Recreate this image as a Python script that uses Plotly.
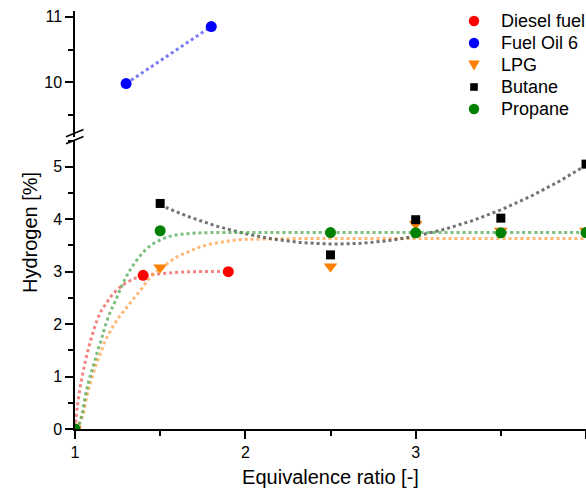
import numpy as np
import plotly.graph_objects as go

# ---------------- data ----------------
diesel_x = [1.0, 1.4, 1.9]
diesel_y = [0.0, 2.93, 3.0]

fo6_x = [1.3, 1.8]
fo6_y = [9.98, 10.85]

lpg_x = [1.0, 1.5, 2.5, 3.0, 3.5, 4.0]
lpg_y = [0.0, 3.08, 3.10, 3.91, 3.78, 3.78]

butane_x = [1.5, 2.5, 3.0, 3.5, 4.0]
butane_y = [4.30, 3.32, 3.99, 4.02, 5.05]

propane_x = [1.0, 1.5, 2.5, 3.0, 3.5, 4.0]
propane_y = [0.0, 3.78, 3.745, 3.74, 3.74, 3.745]

# fitted curves, points
diesel_fit_x = [1.0, 1.014, 1.035, 1.063, 1.098, 1.143, 1.176, 1.225, 1.284, 1.343,
                1.40, 1.46, 1.54, 1.618, 1.716, 1.9]
diesel_fit_y = [0.0, 0.43, 0.88, 1.32, 1.76, 2.18, 2.36, 2.58, 2.75, 2.86,
                2.92, 2.95, 2.97, 2.99, 3.0, 3.0]

propane_fit_x = [1.0, 1.02, 1.039, 1.058, 1.078, 1.098, 1.118, 1.137, 1.157, 1.176,
                 1.206, 1.235, 1.294, 1.333, 1.382, 1.44, 1.51, 1.578, 1.676, 1.8,
                 2.0, 2.5, 3.0, 3.5, 4.0]
propane_fit_y = [0.0, 0.06, 0.25, 0.58, 0.88, 1.10, 1.32, 1.53, 1.73, 1.95,
                 2.22, 2.43, 2.86, 3.08, 3.30, 3.49, 3.62, 3.69, 3.73, 3.745,
                 3.745, 3.745, 3.745, 3.745, 3.745]

lpg_fit_x = [1.0, 1.02, 1.049, 1.065, 1.084, 1.104, 1.127, 1.151, 1.176, 1.206,
             1.235, 1.265, 1.294, 1.343, 1.392, 1.45, 1.52, 1.598, 1.667, 1.725,
             1.775, 1.873, 1.97, 2.07, 2.3, 3.0, 4.0]
lpg_fit_y = [0.0, 0.08, 0.30, 0.56, 0.81, 1.03, 1.26, 1.45, 1.67, 1.86,
             2.02, 2.16, 2.28, 2.48, 2.68, 2.92, 3.10, 3.28, 3.38, 3.46,
             3.51, 3.57, 3.61, 3.62, 3.63, 3.63, 3.63]

series_names = ["Diesel fuel", "Fuel Oil 6", "LPG", "Butane", "Propane"]
series_colors = ["#ff0000", "#0000ff", "#ff8000", "#000000", "#008000"]
series_symbols = ["circle", "circle", "triangle-down", "square", "circle"]

# quadratic fit of butane data
b_coef = np.polyfit(butane_x, butane_y, 2)
b_fit_x = np.linspace(min(butane_x), max(butane_x), 120)
b_fit_y = np.polyval(b_coef, b_fit_x)

FONT = "Arial, Liberation Sans, sans-serif"

fig = go.Figure()

# fit lines
fig.add_trace(go.Scatter(x=diesel_fit_x, y=diesel_fit_y, mode="lines", line_shape="spline",
                         line=dict(color="rgba(240,90,90,0.75)", width=3, dash="dot"),
                         showlegend=False, hoverinfo="skip"))
fig.add_trace(go.Scatter(x=fo6_x, y=fo6_y, mode="lines", yaxis="y2",
                         line=dict(color="rgba(100,100,245,0.85)", width=3, dash="dot"),
                         showlegend=False, hoverinfo="skip"))
fig.add_trace(go.Scatter(x=lpg_fit_x, y=lpg_fit_y, mode="lines", line_shape="spline",
                         line=dict(color="rgba(255,160,70,0.75)", width=3, dash="dot"),
                         showlegend=False, hoverinfo="skip"))
fig.add_trace(go.Scatter(x=b_fit_x, y=b_fit_y, mode="lines",
                         line=dict(color="rgba(90,90,90,0.85)", width=3, dash="dot"),
                         showlegend=False, hoverinfo="skip"))
fig.add_trace(go.Scatter(x=propane_fit_x, y=propane_fit_y, mode="lines", line_shape="spline",
                         line=dict(color="rgba(80,170,80,0.75)", width=3, dash="dot"),
                         showlegend=False, hoverinfo="skip"))

# markers
marker_sizes = [11, 11, 12, 9, 11]
for nm, xs, ys, col, sym, sz, ya in zip(
        series_names,
        [diesel_x, fo6_x, lpg_x, butane_x, propane_x],
        [diesel_y, fo6_y, lpg_y, butane_y, propane_y],
        series_colors, series_symbols, marker_sizes,
        ["y", "y2", "y", "y", "y"]):
    fig.add_trace(go.Scatter(x=xs, y=ys, mode="markers", name=nm, yaxis=ya,
                             showlegend=False,
                             marker=dict(color=col, size=sz, symbol=sym)))

W, H = 586, 495
ml, mr, mt, mb = 75, 0, 11, 66
pw, ph = W - ml - mr, H - mt - mb


def px_x(p):
    return (p - ml) / pw


def px_y(p):
    return (H - mb - p) / ph


axis_common = dict(showgrid=False, zeroline=False, showline=True, linecolor="black",
                   linewidth=1.5, ticks="outside", ticklen=8, tickwidth=1.5,
                   tickcolor="black", tickfont=dict(family=FONT, size=16, color="black"))
minor_common = dict(dtick=0.5, ticklen=5, ticks="outside", tickcolor="black", tickwidth=1.5)

fig.update_layout(
    width=W, height=H,
    margin=dict(l=ml, r=mr, t=mt, b=mb),
    paper_bgcolor="white", plot_bgcolor="white",
    font=dict(family=FONT, color="black"),
    xaxis=dict(range=[1, 4], dtick=1, tick0=1, minor=minor_common,
               title=dict(text="Equivalence ratio [-]", font=dict(family=FONT, size=20), standoff=10),
               **axis_common),
    yaxis=dict(range=[0, 5.51], domain=[0, px_y(140)], dtick=1, tick0=0,
               minor=minor_common, **axis_common),
    yaxis2=dict(range=[9.166, 11.087], domain=[px_y(137), 1], dtick=1, tick0=9,
                anchor="x", minor=minor_common, **axis_common),
    showlegend=False,
)

# axis-break marks
for (x0, y0, x1, y1) in [(66, 136.7, 83.5, 129.5), (66, 143.7, 83.5, 136.5)]:
    fig.add_shape(type="line", xref="paper", yref="paper",
                  x0=px_x(x0), y0=px_y(y0), x1=px_x(x1), y1=px_y(y1),
                  line=dict(color="black", width=1.5))

fig.add_annotation(text="Hydrogen [%]", xref="paper", yref="paper",
                   x=px_x(30), y=px_y(233), textangle=-90, showarrow=False,
                   xanchor="center", yanchor="middle",
                   font=dict(family=FONT, size=20, color="black"))

# legend (drawn as shapes + text)
leg_sym_x = 474
leg_text_x = 499
leg_row0 = 21
leg_row_gap = 22
for i, (nm, col, sym) in enumerate(zip(series_names, series_colors, series_symbols)):
    cy = leg_row0 + i * leg_row_gap
    if sym == "circle":
        r = 5.2
        fig.add_shape(type="circle", xref="paper", yref="paper",
                      x0=px_x(leg_sym_x - r), x1=px_x(leg_sym_x + r),
                      y0=px_y(cy + r), y1=px_y(cy - r),
                      fillcolor=col, line=dict(width=0))
    elif sym == "square":
        h = 3.8
        fig.add_shape(type="rect", xref="paper", yref="paper",
                      x0=px_x(leg_sym_x - h), x1=px_x(leg_sym_x + h),
                      y0=px_y(cy + h), y1=px_y(cy - h),
                      fillcolor=col, line=dict(width=0))
    else:
        hw, top, bot = 5.8, cy - 4.5, cy + 5.5
        path = "M {:.5f},{:.5f} L {:.5f},{:.5f} L {:.5f},{:.5f} Z".format(
            px_x(leg_sym_x - hw), px_y(top), px_x(leg_sym_x + hw), px_y(top),
            px_x(leg_sym_x), px_y(bot))
        fig.add_shape(type="path", xref="paper", yref="paper", path=path,
                      fillcolor=col, line=dict(width=0))
    fig.add_annotation(text=nm, xref="paper", yref="paper",
                       x=px_x(leg_text_x), y=px_y(cy), showarrow=False,
                       xanchor="left", yanchor="middle",
                       font=dict(family=FONT, size=18, color="black"))

fig.write_html("out.html")
